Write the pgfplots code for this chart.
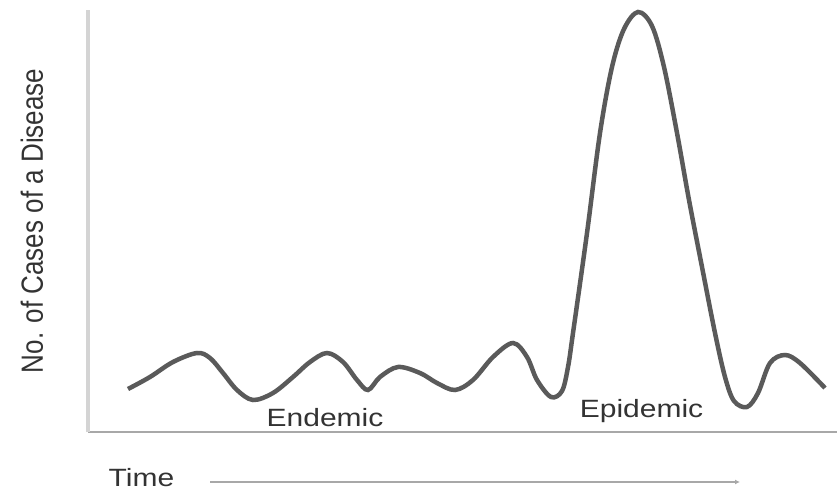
\documentclass[border=0pt]{standalone}
\usepackage{pgfplots}
\pgfplotsset{compat=1.18}
\usepackage{fontspec}
\setmainfont{Liberation Sans}
\usetikzlibrary{arrows.meta}
\definecolor{curve}{HTML}{5A5A5A}
\definecolor{txt}{HTML}{333333}
\definecolor{yax}{HTML}{D4D4D4}
\definecolor{xax}{HTML}{A8A8A8}
\begin{document}
\begin{tikzpicture}
\useasboundingbox (0,0) rectangle (837bp,492bp);
\begin{axis}[
  at={(88bp,60bp)}, anchor=south west,
  scale only axis, width=749bp, height=422bp,
  xmin=88, xmax=837, ymin=60, ymax=482,
  axis x line*=bottom, axis y line*=left,
  x axis line style={draw=xax, line width=2bp},
  y axis line style={draw=yax, line width=4bp},
  xtick=\empty, ytick=\empty,
  clip=false,
  ylabel={\fontsize{26bp}{30bp}\selectfont\scalebox{1}[1.18]{No. of Cases of a Disease}},
  ylabel style={at={(rel axis cs:-0.0748,0.5)}, anchor=center, text=txt, inner sep=0pt},
]
\addplot[curve, line width=4.5bp, smooth, tension=0.55] table {
x y
128 103
150 115
173 130
197 139
210 134
223 119
237 102
253 92
273 99
293 115
310 130
327 139
343 130
357 112
368 102
380 115
398 125
420 119
437 109
455 102
473 112
493 135
513 149
527 135
537 112
551 95
562 101
568 125
573 159
587 259
600 359
612 425
624 463
638 480
652 466
664 425
677 359
689 292
702 225
715 159
725 115
734 91
747 85
758 99
770 129
785 137
800 129
825 104
};
\node[text=txt, anchor=base, inner sep=0pt] at (axis cs:325,66) {\fontsize{25bp}{30bp}\selectfont\scalebox{1.2}[1]{Endemic}};
\node[text=txt, anchor=base, inner sep=0pt] at (axis cs:641.5,75) {\fontsize{25bp}{30bp}\selectfont\scalebox{1.2}[1]{Epidemic}};
\node[text=txt, anchor=base, inner sep=0pt] at (axis cs:141.5,6) {\fontsize{25bp}{30bp}\selectfont\scalebox{1.2}[1]{Time}};
\draw[xax, line width=2bp, -{Latex[length=5bp,width=5bp]}] (axis cs:210,10) -- (axis cs:740,10);
\end{axis}
\end{tikzpicture}
\end{document}
